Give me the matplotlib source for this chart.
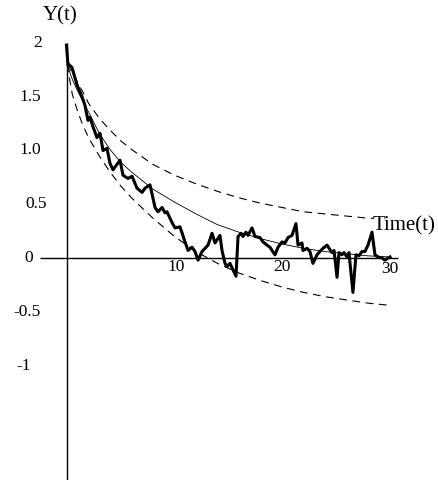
import matplotlib
matplotlib.use("Agg")
import matplotlib.pyplot as plt

# noisy sample path Y(t)
path_t = [-0.05, 0.08, 0.47, 0.93, 1.40, 1.67, 1.95, 2.14, 2.42, 2.79, 3.07, 3.35, 3.72,
          4.00, 4.28, 4.93, 5.21, 5.67, 6.05, 6.51, 6.98, 7.26, 7.72, 8.19, 8.47, 8.84,
          9.12, 9.30, 9.77, 10.05, 10.51, 10.98, 11.26, 11.63, 11.91, 12.19, 12.56,
          12.84, 13.12, 13.49, 13.77, 14.23, 14.42, 14.70, 14.88, 15.16, 15.44, 15.72,
          15.91, 16.19, 16.37, 16.65, 16.84, 17.21, 17.49, 17.95, 18.23, 18.60, 18.88,
          19.07, 19.35, 19.63, 20.00, 20.28, 20.56, 20.93, 21.30, 21.49, 21.86, 21.95,
          22.33, 22.60, 22.88, 23.26, 23.53, 23.81, 24.19, 24.65, 24.84, 25.12, 25.30,
          25.58, 25.77, 26.05, 26.23, 26.60, 26.88, 27.16, 27.44, 27.72, 28.00, 28.37,
          28.65, 28.93, 29.30, 29.58, 29.86, 30.05]
path_y = [1.98, 1.81, 1.77, 1.61, 1.50, 1.42, 1.28, 1.31, 1.22, 1.12, 1.16, 1.00, 1.02,
          0.88, 0.82, 0.91, 0.77, 0.74, 0.76, 0.65, 0.61, 0.65, 0.68, 0.47, 0.43, 0.47,
          0.42, 0.43, 0.33, 0.28, 0.29, 0.15, 0.07, 0.10, 0.06, -0.02, 0.06,
          0.09, 0.12, 0.23, 0.14, 0.21, 0.07, -0.05, -0.08, -0.05, -0.11, -0.17,
          0.20, 0.23, 0.20, 0.24, 0.21, 0.28, 0.20, 0.19, 0.15, 0.12, 0.10,
          0.07, 0.03, 0.10, 0.15, 0.14, 0.19, 0.21, 0.32, 0.12, 0.14, 0.07,
          0.09, 0.06, -0.05, 0.03, 0.06, 0.09, 0.12, 0.05, 0.07, -0.18, 0.05,
          0.03, 0.05, 0.01, 0.05, -0.32, 0.03, 0.02, 0.06, 0.06, 0.12, 0.24,
          0.03, 0.01, 0.00, -0.02, 0.00, 0.01]

# mean and band curves
curve_t = [0, 0.5, 1, 1.5, 2, 3, 4, 5, 6, 8, 10, 12, 14, 16, 18, 20, 22, 24, 26, 28, 30]
mean_y = [1.80, 1.66, 1.55, 1.45, 1.36, 1.16, 1.01, 0.89, 0.80, 0.64, 0.52, 0.41, 0.31,
          0.24, 0.18, 0.13, 0.09, 0.06, 0.04, 0.02, 0.01]
lower_y = [1.80, 1.52, 1.36, 1.23, 1.12, 0.95, 0.80, 0.67, 0.56, 0.37, 0.20, 0.06, -0.05,
           -0.14, -0.21, -0.27, -0.32, -0.36, -0.39, -0.42, -0.44]
upper_t = [0, 0.5, 1, 1.5, 2, 3, 4, 5, 6, 8, 10, 12, 14, 16, 18, 20, 22, 24, 26, 28, 28.5]
upper_y = [1.80, 1.72, 1.63, 1.54, 1.44, 1.30, 1.19, 1.09, 1.01, 0.87, 0.77, 0.69, 0.62,
           0.56, 0.51, 0.47, 0.43, 0.41, 0.39, 0.37, 0.37]

y_ticks = [2, 1.5, 1.0, 0.5, 0, -0.5, -1]
y_tick_labels = ["2", "1.5", "1.0", "0.5", "0", "-0.5", "-1"]
x_ticks = [10, 20, 30]
x_tick_labels = ["10", "20", "30"]

plt.rcParams["font.family"] = ["Liberation Serif", "DejaVu Serif"]

fig = plt.figure(figsize=(4.39, 4.80), dpi=100)
ax = fig.add_axes([0, 0, 1, 1])
ax.set_xlim(-67 / 10.75, 372 / 10.75)
ax.set_ylim(-222 / 107.5, 258 / 107.5)
ax.axis("off")

# axes drawn by hand, crossing at the origin
ax.hlines(0, -2.5, 30.8, color="black", lw=1.0)
ax.vlines(0, -2.1, 2.0, color="black", lw=1.0)

ax.plot(curve_t, mean_y, color="black", lw=0.6)
ax.plot(upper_t, upper_y, color="black", lw=0.8, linestyle=(0, (7, 5)))
ax.plot(curve_t, lower_y, color="black", lw=0.8, linestyle=(0, (7, 5)))
ax.plot(path_t, path_y, color="black", lw=2.2, solid_joinstyle="round")

# hand-placed tick labels (offsets in pixels from the y axis)
y_dx = [-29, -37, -37, -31, -38, -40, -43]
for v, lab, dx in zip(y_ticks, y_tick_labels, y_dx):
    ax.annotate(lab, xy=(0, v), xytext=(dx, 0), textcoords="offset pixels",
                ha="center", va="center", fontsize=12.5)

x_dx = [1.5, 0, 0]
x_dy = [-9, -9, -11]
for v, lab, dx, dy in zip(x_ticks, x_tick_labels, x_dx, x_dy):
    ax.annotate(lab, xy=(v, 0), xytext=(dx, dy), textcoords="offset pixels",
                ha="center", va="center", fontsize=12.5)

ax.annotate("Y(t)", xy=(0, 0), xytext=(-7, 242), textcoords="offset pixels",
            ha="center", va="center", fontsize=15)
ax.annotate("Time(t)", xy=(30, 0), xytext=(-16.5, 32), textcoords="offset pixels",
            ha="left", va="center", fontsize=15)

fig.savefig("out.png", dpi=100)
